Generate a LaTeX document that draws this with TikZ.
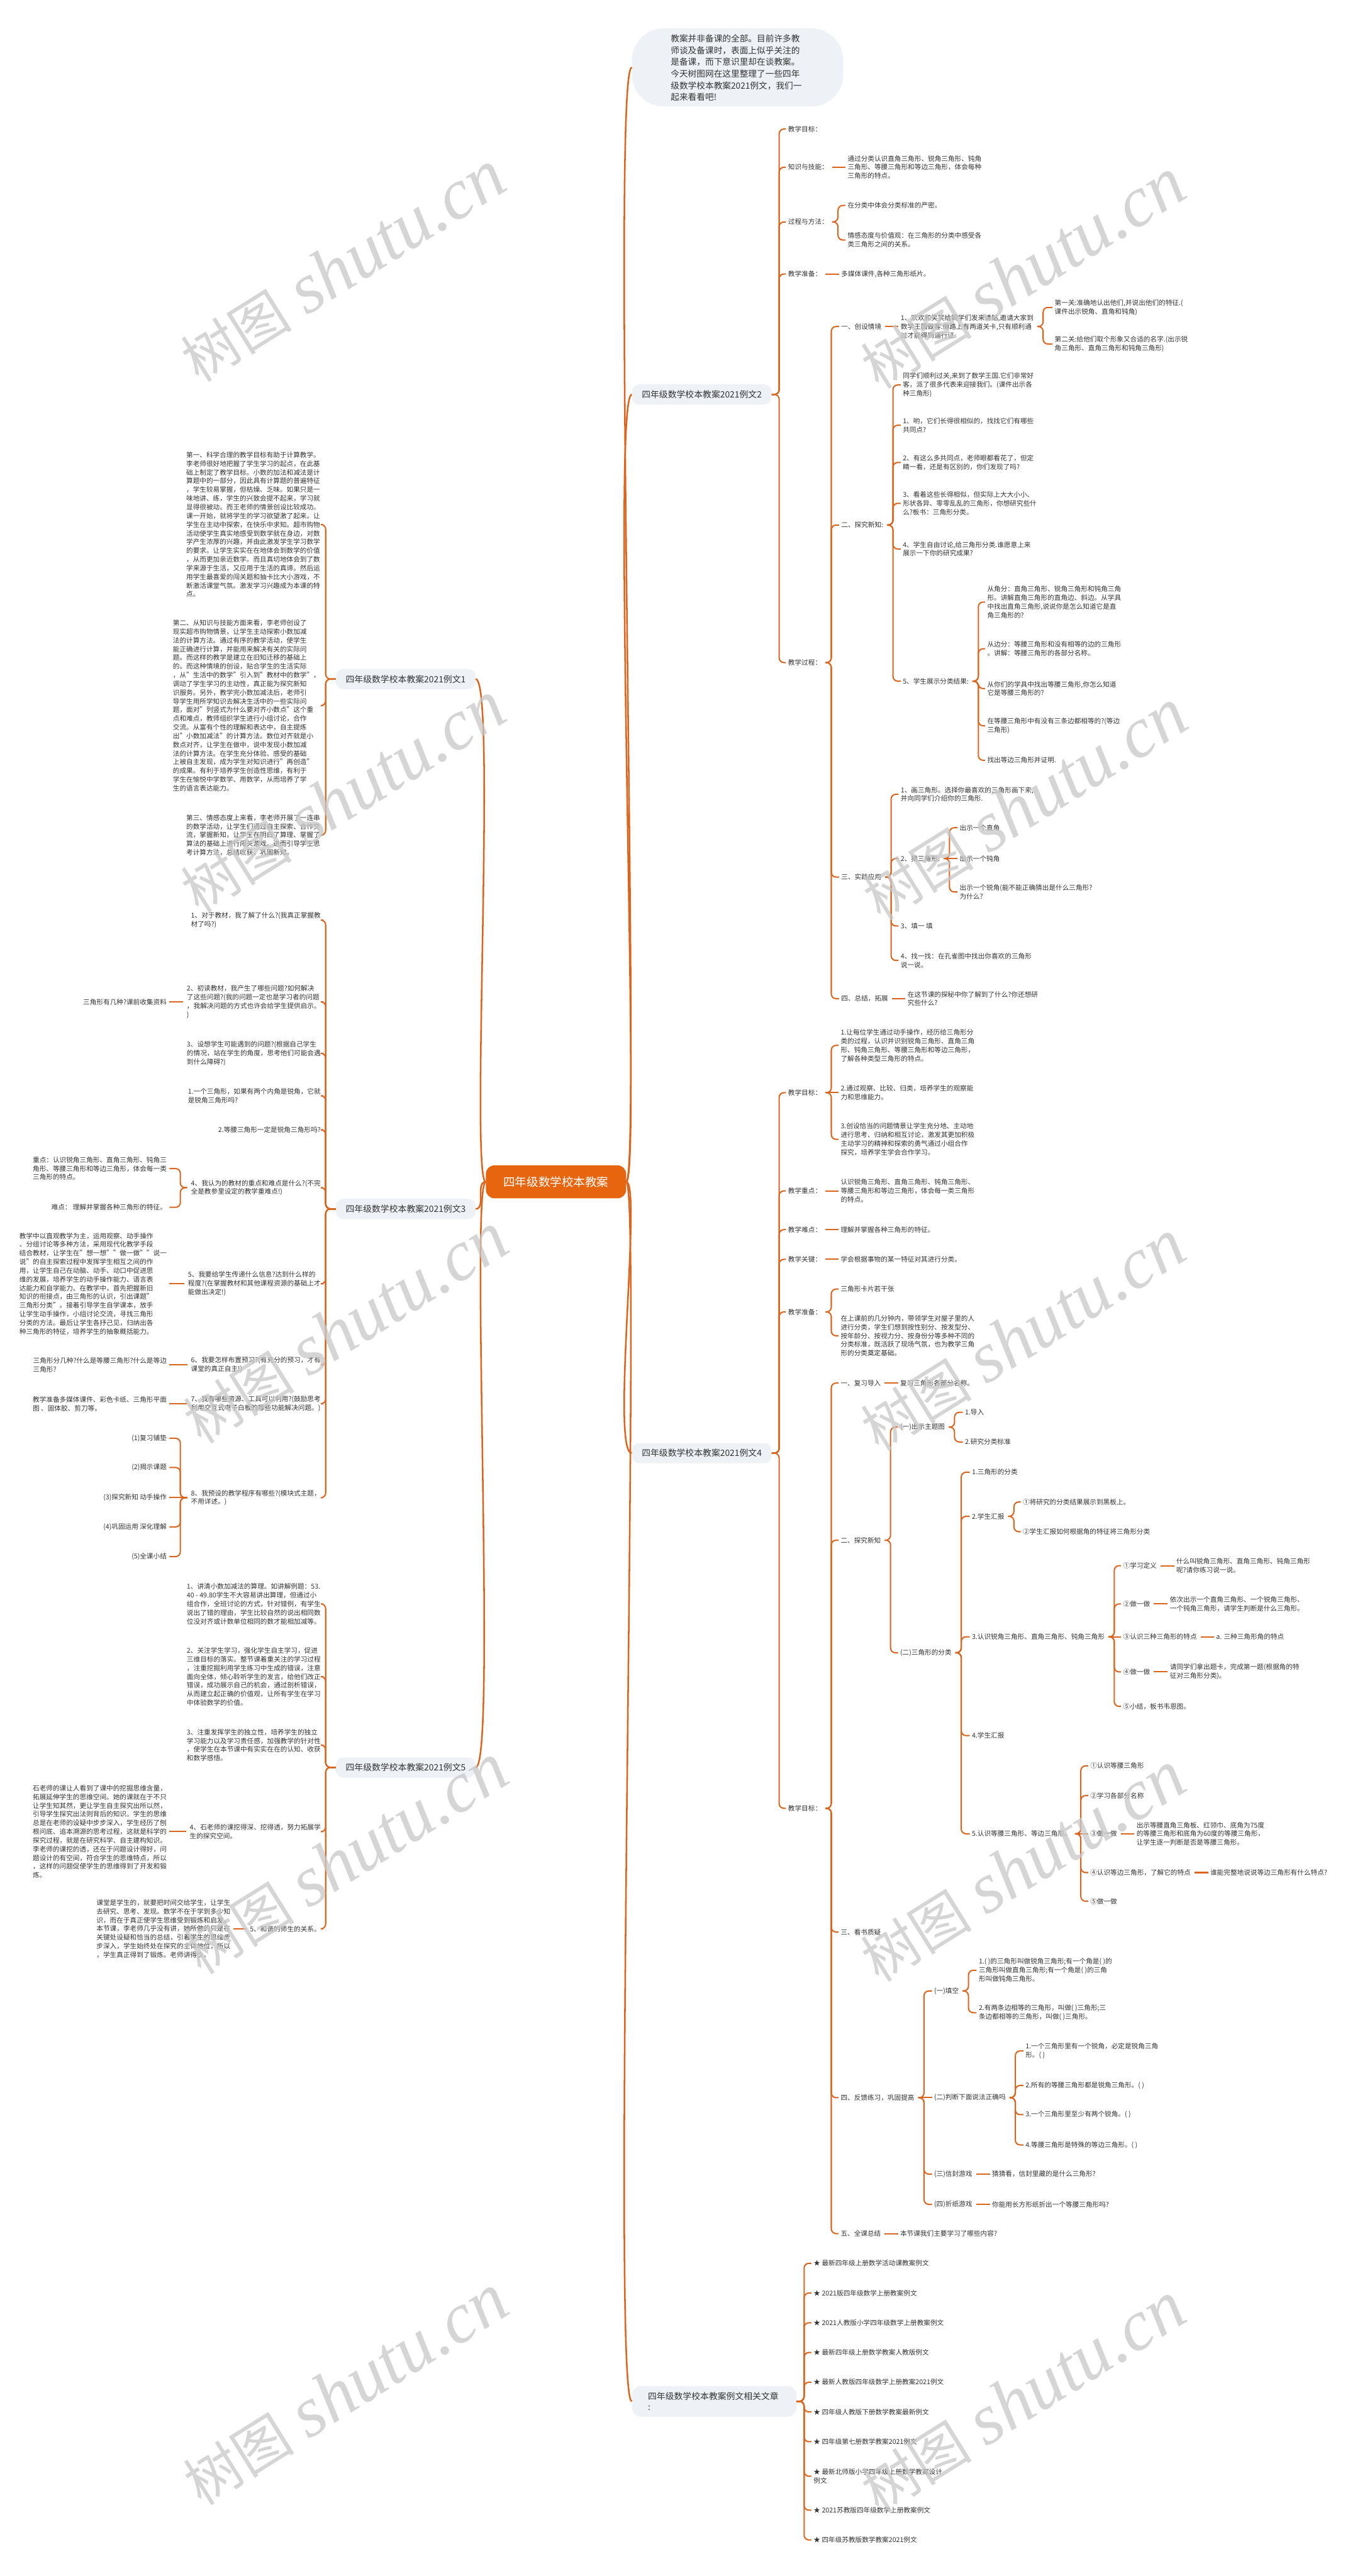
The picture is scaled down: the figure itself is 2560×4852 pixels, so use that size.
\documentclass[tikz,border=0pt]{standalone}
\usepackage{fontspec}
\setmainfont{Noto Sans CJK SC}
\newfontfamily\wmserif{Liberation Serif}
\usetikzlibrary{calc}
\definecolor{edgec}{HTML}{D9651F}
\definecolor{nodebg}{HTML}{EEF1F5}
\definecolor{txt}{HTML}{333333}
\definecolor{ctr}{HTML}{E8650F}
\definecolor{wmc}{HTML}{C8C8C8}
\tikzset{
  t/.style={font=\fontsize{12.6}{16.4}\selectfont, inner sep=0pt, align=left, text=txt},
  tw/.style={t, anchor=west},
  te/.style={t, anchor=east},
  br/.style={fill=nodebg, rounded corners=14pt, minimum width=263pt, minimum height=38pt,
     font=\fontsize{16.4}{20}\selectfont, text=txt, inner sep=0pt},
  ed/.style={draw=edgec, line width=2.4pt, rounded corners=9pt},
  me/.style={draw=edgec, line width=3pt},
  wm/.style={rotate=32, text=wmc, opacity=0.75, inner sep=0pt},
}
\newcommand\edR[2]{\draw[ed] ([xshift=7pt]#1.east) -- ++(11pt,0pt) |- ([xshift=-4pt]#2.west);}
\newcommand\edS[2]{\draw[ed] ([xshift=7pt]#1.east) -- ($(#1.east -| #2.west)+(-4pt,0pt)$);}
\newcommand\edRB[2]{\draw[ed] (#1.east) -- ++(14pt,0pt) |- ([xshift=-4pt]#2.west);}
\newcommand\edL[2]{\draw[ed] ([xshift=-7pt]#1.west) -- ++(-13pt,0pt) |- ([xshift=5pt]#2.east);}
\newcommand\edSL[2]{\draw[ed] ([xshift=-7pt]#1.west) -- ($(#1.west -| #2.east)+(5pt,0pt)$);}
\newcommand\edLB[2]{\draw[ed] (#1.west) -- ++(-19pt,0pt) |- ([xshift=5pt]#2.east);}
\newcommand\wmark[1]{\node[wm] at (#1) {\fontsize{105}{110}\selectfont 树图\hspace{28pt}{\wmserif\itshape\fontsize{135}{140}\selectfont shutu.cn}};}
\begin{document}
\begin{tikzpicture}[x=1pt,y=-1pt]
\useasboundingbox[fill=white] (0,0) rectangle (2560,4852);

% centre
\node[fill=ctr, rounded corners=16pt, minimum width=264pt, minimum height=62pt, inner sep=0pt,
  text=white, font=\fontsize{22}{26}\selectfont] (C) at (1047,2226) {四年级数学校本教案};

% intro
\node[fill=nodebg, rounded corners=60pt, minimum width=398pt, minimum height=147pt, inner sep=0pt] (intro) at (1389,127) {};
\node[anchor=west, inner sep=0pt, align=left, text=txt, font=\fontsize{16.2}{22}\selectfont] (introt) at (1263,128)
 {教案并非备课的全部。目前许多教\\师谈及备课时，表面上似乎关注的\\是备课，而下意识里却在谈教案。\\今天树图网在这里整理了一些四年\\级数学校本教案2021例文，我们一\\起来看看吧!};

% branch boxes
\node[br] (b2) at (1321.5,743) {四年级数学校本教案2021例文2};
\node[br] (b4) at (1321.5,2737) {四年级数学校本教案2021例文4};
\node[fill=nodebg, rounded corners=18pt, minimum width=310pt, minimum height=58pt, inner sep=0pt] (b6) at (1345,4523) {};
\node[anchor=west, inner sep=0pt, align=left, text=txt, font=\fontsize{16.4}{21}\selectfont] at (1220,4523) {四年级数学校本教案例文相关文章\\:};
\node[br] (b1) at (764,1279) {四年级数学校本教案2021例文1};
\node[br] (b3) at (764,2277) {四年级数学校本教案2021例文3};
\node[br] (b5) at (764,3329) {四年级数学校本教案2021例文5};

% main curves
\draw[me] (C.east) .. controls +(30,0) and +(-40,0) .. (intro.west);
\draw[me] (C.east) .. controls +(30,0) and +(-40,0) .. (b2.west);
\draw[me] (C.east) .. controls +(30,0) and +(-40,0) .. (b4.west);
\draw[me] (C.east) .. controls +(30,0) and +(-40,0) .. (b6.west);
\draw[me] (b1.east) .. controls +(40,0) and +(-30,0) .. (C.west);
\draw[me] (b3.east) .. controls +(20,0) and +(-20,0) .. (C.west);
\draw[me] (b5.east) .. controls +(40,0) and +(-30,0) .. (C.west);

% ================= example 2 =================
\node[tw] (r2a) at (1484,243) {教学目标：};
\node[tw] (r2b) at (1484,315) {知识与技能：};
\node[tw] (r2b1) at (1596,315) {通过分类认识直角三角形、锐角三角形、钝角\\三角形、等腰三角形和等边三角形，体会每种\\三角形的特点。};
\node[tw] (r2c) at (1484,418) {过程与方法：};
\node[tw] (r2c1) at (1596,387) {在分类中体会分类标准的严密。};
\node[tw] (r2c2) at (1596,452) {情感态度与价值观：在三角形的分类中感受各\\类三角形之间的关系。};
\node[tw] (r2d) at (1484,516) {教学准备：};
\node[tw] (r2d1) at (1584,516) {多媒体课件,各种三角形纸片。};
\node[tw] (r2e) at (1484,1248) {教学过程：};
\foreach \c in {r2a,r2b,r2c,r2d,r2e} {\edRB{b2}{\c}}
\edS{r2b}{r2b1}
\edR{r2c}{r2c1}\edR{r2c}{r2c2}
\edS{r2d}{r2d1}

\node[tw] (e1) at (1584,615) {一、创设情境};
\node[tw] (e1a) at (1696,615) {1、欢欢和笑笑给同学们发来请贴,邀请大家到\\数学王国做客.但路上有两道关卡,只有顺利通\\过才能得到通行证.};
\node[tw] (e1a1) at (1986,579) {第一关:准确地认出他们,并说出他们的特征.(\\课件出示锐角、直角和钝角)};
\node[tw] (e1a2) at (1986,648) {第二关:给他们取个形象又合适的名字.(出示锐\\角三角形、直角三角形和钝角三角形)};
\node[tw] (e2) at (1584,989) {二、探究新知:};
\node[tw] (e2a) at (1700,725) {同学们顺利过关,来到了数学王国.它们非常好\\客，派了很多代表来迎接我们。(课件出示各\\种三角形)};
\node[tw] (e2b) at (1700,801) {1、哟，它们长得很相似的，找找它们有哪些\\共同点?};
\node[tw] (e2c) at (1700,871) {2、有这么多共同点，老师眼都看花了，但定\\睛一看，还是有区别的，你们发现了吗?};
\node[tw] (e2d) at (1700,948) {3、看着这些长得相似，但实际上大大小小、\\形状各异、零零乱乱的三角形，你想研究些什\\么?板书：三角形分类。};
\node[tw] (e2e) at (1700,1034) {4、学生自由讨论,给三角形分类.谁愿意上来\\展示一下你的研究成果?};
\node[tw] (e2f) at (1700,1283) {5、学生展示分类结果:};
\node[tw] (f1) at (1859,1134) {从角分：直角三角形、锐角三角形和钝角三角\\形。讲解直角三角形的直角边、斜边。从学具\\中找出直角三角形,说说你是怎么知道它是直\\角三角形的?};
\node[tw] (f2) at (1859,1222) {从边分：等腰三角形和没有相等的边的三角形\\。讲解：等腰三角形的各部分名称。};
\node[tw] (f3) at (1859,1297) {从你们的学具中找出等腰三角形,你怎么知道\\它是等腰三角形的?};
\node[tw] (f4) at (1859,1367) {在等腰三角形中有没有三条边都相等的?(等边\\三角形)};
\node[tw] (f5) at (1859,1432) {找出等边三角形并证明.};
\node[tw] (e3) at (1584,1652) {三、实践应用};
\node[tw] (g1) at (1696,1496) {1、画三角形。选择你最喜欢的三角形画下来,\\并向同学们介绍你的三角形.};
\node[tw] (g2) at (1696,1617) {2、猜三角形:};
\node[tw] (g2a) at (1807,1559) {出示一个直角};
\node[tw] (g2b) at (1807,1617) {出示一个钝角};
\node[tw] (g2c) at (1807,1680) {出示一个锐角(能不能正确猜出是什么三角形?\\为什么?};
\node[tw] (g3) at (1696,1744) {3、填一 填};
\node[tw] (g4) at (1696,1809) {4、找一找：在孔雀图中找出你喜欢的三角形\\说一说。};
\node[tw] (e4) at (1584,1881) {四、总结，拓展};
\node[tw] (h1) at (1709,1881) {在这节课的探秘中你了解到了什么?你还想研\\究些什么?};
\foreach \c in {e1,e2,e3,e4} {\edR{r2e}{\c}}
\edS{e1}{e1a}\edR{e1a}{e1a1}\edR{e1a}{e1a2}
\foreach \c in {e2a,e2b,e2c,e2d,e2e,e2f} {\edR{e2}{\c}}
\foreach \c in {f1,f2,f3,f4,f5} {\edR{e2f}{\c}}
\foreach \c in {g1,g2,g3,g4} {\edR{e3}{\c}}
\edR{g2}{g2a}\edS{g2}{g2b}\edR{g2}{g2c}
\edS{e4}{h1}

% ================= example 4 =================
\node[tw] (s1) at (1484,2058) {教学目标：};
\node[tw] (s1a) at (1583,1969) {1.让每位学生通过动手操作，经历给三角形分\\类的过程，认识并识别锐角三角形、直角三角\\形、钝角三角形、等腰三角形和等边三角形，\\了解各种类型三角形的特点。};
\node[tw] (s1b) at (1583,2058) {2.通过观察、比较、归类，培养学生的观察能\\力和思维能力。};
\node[tw] (s1c) at (1583,2146) {3.创设恰当的问题情景让学生充分地、主动地\\进行思考、归纳和相互讨论，激发其更加积极\\主动学习的精神和探索的勇气通过小组合作\\探究，培养学生学会合作学习。};
\node[tw] (s2) at (1484,2243) {教学重点：};
\node[tw] (s2a) at (1583,2243) {认识锐角三角形、直角三角形、钝角三角形、\\等腰三角形和等边三角形，体会每一类三角形\\的特点。};
\node[tw] (s3) at (1484,2316) {教学难点：};
\node[tw] (s3a) at (1583,2316) {理解并掌握各种三角形的特征。};
\node[tw] (s4) at (1484,2372) {教学关键：};
\node[tw] (s4a) at (1583,2372) {学会根据事物的某一特征对其进行分类。};
\node[tw] (s5) at (1484,2471) {教学准备：};
\node[tw] (s5a) at (1583,2428) {三角形卡片若干张};
\node[tw] (s5b) at (1583,2516) {在上课前的几分钟内，带领学生对屋子里的人\\进行分类，学生们想到按性别分、按发型分、\\按年龄分、按视力分、按身份分等多种不同的\\分类标准，既活跃了现场气氛，也为教学三角\\形的分类奠定基础。};
\node[tw] (s6) at (1484,3406) {教学目标：};
\foreach \c in {s1,s2,s3,s4,s5,s6} {\edRB{b4}{\c}}
\edR{s1}{s1a}\edS{s1}{s1b}\edR{s1}{s1c}
\edS{s2}{s2a}\edS{s3}{s3a}\edS{s4}{s4a}
\edR{s5}{s5a}\edR{s5}{s5b}

\node[tw] (u1) at (1583,2605) {一、复习导入};
\node[tw] (u1a) at (1695,2605) {复习三角形各部分名称。};
\node[tw] (u2) at (1583,2901) {二、探究新知};
\node[tw] (u2a) at (1695,2688) {(一)出示主题图};
\node[tw] (u2a1) at (1817,2660) {1.导入};
\node[tw] (u2a2) at (1817,2716) {2.研究分类标准};
\node[tw] (u2b) at (1695,3113) {(二)三角形的分类};
\node[tw] (v1) at (1830,2773) {1.三角形的分类};
\node[tw] (v2) at (1830,2856) {2.学生汇报};
\node[tw] (v2a) at (1926,2829) {①将研究的分类结果展示到黑板上。};
\node[tw] (v2b) at (1926,2885) {②学生汇报如何根据角的特征将三角形分类};
\node[tw] (v3) at (1830,3083) {3.认识锐角三角形、直角三角形、钝角三角形};
\node[tw] (w1) at (2115,2949) {①学习定义};
\node[tw] (w1a) at (2215,2949) {什么叫锐角三角形、直角三角形、钝角三角形\\呢?请你练习说一说。};
\node[tw] (w2) at (2115,3021) {②做一做};
\node[tw] (w2a) at (2203,3021) {依次出示一个直角三角形、一个锐角三角形、\\一个钝角三角形，请学生判断是什么三角形。};
\node[tw] (w3) at (2115,3083) {③认识三种三角形的特点};
\node[tw] (w3a) at (2290,3083) {a. 三种三角形角的特点};
\node[tw] (w4) at (2115,3149) {④做一做};
\node[tw] (w4a) at (2203,3149) {请同学们拿出题卡，完成第一题(根据角的特\\征对三角形分类)。};
\node[tw] (w5) at (2115,3214) {⑤小结，板书韦恩图。};
\node[tw] (v4) at (1830,3269) {4.学生汇报};
\node[tw] (v5) at (1830,3454) {5.认识等腰三角形、等边三角形。};
\node[tw] (x1) at (2053,3326) {①认识等腰三角形};
\node[tw] (x2) at (2053,3382) {②学习各部分名称};
\node[tw] (x3) at (2053,3454) {③做一做};
\node[tw] (x3a) at (2140,3454) {出示等腰直角三角板、红领巾、底角为75度\\的等腰三角形和底角为60度的等腰三角形，\\让学生逐一判断是否是等腰三角形。};
\node[tw] (x4) at (2053,3527) {④认识等边三角形，了解它的特点};
\node[tw] (x4a) at (2279,3527) {谁能完整地说说等边三角形有什么特点?};
\node[tw] (x5) at (2053,3581) {⑤做一做};
\node[tw] (u3) at (1583,3639) {三、看书质疑};
\node[tw] (u4) at (1583,3951) {四、反馈练习，巩固提高};
\node[tw] (y1) at (1759,3750) {(一)填空};
\node[tw] (y1a) at (1843,3711) {1.( )的三角形叫做锐角三角形;有一个角是( )的\\三角形叫做直角三角形;有一个角是( )的三角\\形叫做钝角三角形。};
\node[tw] (y1b) at (1843,3791) {2.有两条边相等的三角形，叫做( )三角形;三\\条边都相等的三角形，叫做( )三角形。};
\node[tw] (y2) at (1759,3951) {(二)判断下面说法正确吗};
\node[tw] (y2a) at (1931,3863) {1.一个三角形里有一个锐角，必定是锐角三角\\形。( )};
\node[tw] (y2b) at (1931,3928) {2.所有的等腰三角形都是锐角三角形。( )};
\node[tw] (y2c) at (1931,3983) {3.一个三角形里至少有两个锐角。( )};
\node[tw] (y2d) at (1931,4040) {4.等腰三角形是特殊的等边三角形。( )};
\node[tw] (y3) at (1759,4095) {(三)信封游戏};
\node[tw] (y3a) at (1868,4095) {猜猜看，信封里藏的是什么三角形?};
\node[tw] (y4) at (1759,4152) {(四)折纸游戏};
\node[tw] (y4a) at (1868,4152) {你能用长方形纸折出一个等腰三角形吗?};
\node[tw] (u5) at (1583,4207) {五、全课总结};
\node[tw] (u5a) at (1695,4207) {本节课我们主要学习了哪些内容?};
\foreach \c in {u1,u2,u3,u4,u5} {\edR{s6}{\c}}
\edS{u1}{u1a}
\edR{u2}{u2a}\edR{u2}{u2b}
\edR{u2a}{u2a1}\edR{u2a}{u2a2}
\foreach \c in {v1,v2,v3,v4,v5} {\edR{u2b}{\c}}
\edR{v2}{v2a}\edR{v2}{v2b}
\edR{v3}{w1}\edR{v3}{w2}\edS{v3}{w3}\edR{v3}{w4}\edR{v3}{w5}
\edS{w1}{w1a}\edS{w2}{w2a}\edS{w3}{w3a}\edS{w4}{w4a}
\edR{v5}{x1}\edR{v5}{x2}\edS{v5}{x3}\edR{v5}{x4}\edR{v5}{x5}
\edS{x3}{x3a}\edS{x4}{x4a}
\edR{u4}{y1}\edS{u4}{y2}\edR{u4}{y3}\edR{u4}{y4}
\edR{y1}{y1a}\edR{y1}{y1b}
\foreach \c in {y2a,y2b,y2c,y2d} {\edR{y2}{\c}}
\edS{y3}{y3a}\edS{y4}{y4a}
\edS{u5}{u5a}

% ================= related =================
\node[tw] (k1) at (1532,4263) {★ 最新四年级上册数学活动课教案例文};
\node[tw] (k2) at (1532,4319) {★ 2021版四年级数学上册教案例文};
\node[tw] (k3) at (1532,4375) {★ 2021人教版小学四年级数学上册教案例文};
\node[tw] (k4) at (1532,4431) {★ 最新四年级上册数学教案人教版例文};
\node[tw] (k5) at (1532,4487) {★ 最新人教版四年级数学上册教案2021例文};
\node[tw] (k6) at (1532,4543) {★ 四年级人教版下册数学教案最新例文};
\node[tw] (k7) at (1532,4599) {★ 四年级第七册数学教案2021例文};
\node[tw] (k8) at (1532,4664) {★ 最新北师版小学四年级上册数学教案设计\\例文};
\node[tw] (k9) at (1532,4728) {★ 2021苏教版四年级数学上册教案例文};
\node[tw] (k10) at (1532,4784) {★ 四年级苏教版数学教案2021例文};
\foreach \c in {k1,k2,k3,k4,k5,k6,k7,k8,k9,k10} {\edRB{b6}{\c}}

% ================= example 1 =================
\node[te] (p1a) at (603,988) {第一、科学合理的教学目标有助于计算教学。\\李老师很好地把握了学生学习的起点，在此基\\础上制定了教学目标。小数的加法和减法是计\\算题中的一部分，因此具有计算题的普遍特征\\，学生较易掌握，但枯燥、乏味。如果只是一\\味地讲、练，学生的兴致会提不起来，学习就\\显得很被动。而王老师的情景创设比较成功。\\课一开始，就将学生的学习欲望激了起来。让\\学生在主动中探索，在快乐中求知。超市购物\\活动使学生真实地感受到数学就在身边，对数\\学产生浓厚的兴趣，并由此激发学生学习数学\\的要求。让学生实实在在地体会到数学的价值\\，从而更加亲近数学。而且真切地体会到了数\\学来源于生活，又应用于生活的真谛。然后运\\用学生最喜爱的闯关题和抽卡比大小游戏，不\\断激活课堂气氛。激发学习兴趣成为本课的特\\点。};
\node[te] (p1b) at (603,1329) {第二、从知识与技能方面来看，李老师创设了\\现实超市购物情景，让学生主动探索小数加减\\法的计算方法。通过有序的教学活动，使学生\\能正确进行计算，并能用来解决有关的实际问\\题。而这样的教学是建立在旧知迁移的基础上\\的。而这种情境的创设，贴合学生的生活实际\\，从"生活中的数学"引入到"教材中的数学"，\\调动了学生学习的主动性，真正能为探究新知\\识服务。另外，教学完小数加减法后，老师引\\导学生用所学知识去解决生活中的一些实际问\\题，面对"列竖式为什么要对齐小数点"这个重\\点和难点，教师组织学生进行小组讨论，合作\\交流。从富有个性的理解和表达中，自主提炼\\出"小数加减法"的计算方法。数位对齐就是小\\数点对齐，让学生在做中，说中发现小数加减\\法的计算方法。在学生充分体验、感受的基础\\上被自主发现，成为学生对知识进行"再创造"\\的成果。有利于培养学生创造性思维，有利于\\学生在愉悦中学数学、用数学，从而培养了学\\生的语言表达能力。};
\node[te] (p1c) at (603,1573) {第三、情感态度上来看，李老师开展了一连串\\的数学活动，让学生们通过自主探索、合作交\\流，掌握新知，让学生在明白了算理、掌握了\\算法的基础上进行闯关游戏。进而引导学生思\\考计算方法，总结收获，巩固新知。};
\foreach \c in {p1a,p1b,p1c} {\edLB{b1}{\c}}

% ================= example 3 =================
\node[te] (c1) at (604,1733) {1、对于教材，我了解了什么?(我真正掌握教\\材了吗?)};
\node[te] (c2) at (604,1887) {2、初读教材，我产生了哪些问题?如何解决\\了这些问题?(我的问题一定也是学习者的问题\\，我解决问题的方式也许会给学生提供启示。\\)};
\node[te] (c2g) at (314,1887) {三角形有几种?课前收集资料};
\node[te] (c3) at (604,1984) {3、设想学生可能遇到的问题?(根据自己学生\\的情况，站在学生的角度，思考他们可能会遇\\到什么障碍?)};
\node[te] (c4) at (604,2064) {1.一个三角形，如果有两个内角是锐角，它就\\是锐角三角形吗?};
\node[te] (c5) at (604,2128) {2.等腰三角形一定是锐角三角形吗?};
\node[te] (c6) at (604,2237) {4、我认为的教材的重点和难点是什么?(不完\\全是教参里设定的教学重难点!)};
\node[te] (c6g1) at (314,2201) {重点：认识锐角三角形、直角三角形、钝角三\\角形、等腰三角形和等边三角形，体会每一类\\三角形的特点。};
\node[te] (c6g2) at (314,2274) {难点： 理解并掌握各种三角形的特征。};
\node[te] (c7) at (604,2418) {5、我要给学生传递什么信息?达到什么样的\\程度?(在掌握教材和其他课程资源的基础上才\\能做出决定!)};
\node[te] (c7g) at (314,2418) {教学中以直观教学为主，运用观察、动手操作\\、分组讨论等多种方法，采用现代化教学手段\\结合教材，让学生在"想一想""做一做""说一\\说"的自主探索过程中发挥学生相互之间的作\\用，让学生自己在动脑、动手、动口中促进思\\维的发展，培养学生的动手操作能力、语言表\\达能力和自学能力。在教学中，首先把握新旧\\知识的衔接点，由三角形的认识，引出课题"\\三角形分类"。接着引导学生自学课本，放手\\让学生动手操作，小组讨论交流，寻找三角形\\分类的方法。最后让学生各抒己见，归纳出各\\种三角形的特征，培养学生的抽象概括能力。};
\node[te] (c8) at (604,2571) {6、我要怎样布置预习?(有充分的预习，才有\\课堂的真正自主!)};
\node[te] (c8g) at (314,2571) {三角形分几种?什么是等腰三角形?什么是等边\\三角形?};
\node[te] (c9) at (604,2644) {7、我有哪些资源、工具可以利用?(鼓励思考\\利用交互式电子白板的哪些功能解决问题。)};
\node[te] (c9g) at (314,2644) {教学准备多媒体课件、彩色卡纸、三角形平面\\图 、固体胶、剪刀等。};
\node[te] (c10) at (604,2821) {8、我预设的教学程序有哪些?(模块式主题，\\不用详述。)};
\node[te] (c10a) at (314,2709) {(1)复习铺垫};
\node[te] (c10b) at (314,2764) {(2)揭示课题};
\node[te] (c10c) at (314,2821) {(3)探究新知 动手操作};
\node[te] (c10d) at (314,2876) {(4)巩固运用 深化理解};
\node[te] (c10e) at (314,2932) {(5)全课小结};
\foreach \c in {c1,c2,c3,c4,c5,c6,c7,c8,c9,c10} {\edLB{b3}{\c}}
\edSL{c2}{c2g}\edL{c6}{c6g1}\edL{c6}{c6g2}\edSL{c7}{c7g}\edSL{c8}{c8g}\edSL{c9}{c9g}
\edL{c10}{c10a}\edL{c10}{c10b}\edSL{c10}{c10c}\edL{c10}{c10d}\edL{c10}{c10e}

% ================= example 5 =================
\node[te] (d1) at (604,3021) {1、讲清小数加减法的算理。如讲解例题：53.\\40 - 49.80学生不大容易讲出算理，但通过小\\组合作，全班讨论的方式，针对错例，有学生\\说出了错的理由，学生比较自然的说出相同数\\位没对齐或计数单位相同的数才能相加减等。};
\node[te] (d2) at (604,3158) {2、关注学生学习，强化学生自主学习，促进\\三维目标的落实。整节课着重关注的学习过程\\，注重挖掘利用学生练习中生成的错误，注意\\面向全体，倾心聆听学生的发言，给他们改正\\错误，成功展示自己的机会，通过剖析错误，\\从而建立起正确的价值观，让所有学生在学习\\中体验数学的价值。};
\node[te] (d3) at (604,3287) {3、注重发挥学生的独立性，培养学生的独立\\学习能力以及学习责任感，加强教学的针对性\\，使学生在本节课中有实实在在的认知、收获\\和数学感悟。};
\node[te] (d4) at (604,3450) {4、石老师的课挖得深、挖得透，努力拓展学\\生的探究空间。};
\node[te] (d4g) at (314,3450) {石老师的课让人看到了课中的挖掘思维含量，\\拓展延伸学生的思维空间。她的课就在于不只\\让学生知其然，更让学生自主探究出所以然，\\引导学生探究出法则背后的知识。学生的思维\\总是在老师的设疑中步步深入，学生经历了刨\\根问底、追本溯源的思考过程，这就是科学的\\探究过程，就是在研究科学、自主建构知识。\\李老师的课挖的透，还在于问题设计得好，问\\题设计的有空间，符合学生的思维特点，所以\\，这样的问题促使学生的思维得到了开发和锻\\炼。};
\node[te] (d5) at (604,3633) {5、和谐的师生的关系。};
\node[te] (d5g) at (434,3633) {课堂是学生的，就要把时间交给学生，让学生\\去研究、思考、发现。数学不在于学到多少知\\识，而在于真正使学生思维受到锻炼和启发。\\本节课，李老师几乎没有讲，她所做的只是在\\关键处设疑和恰当的总结，引着学生的思维步\\步深入，学生始终处在探究的主体地位，所以\\，学生真正得到了锻炼。老师讲得少。};
\foreach \c in {d1,d2,d3,d4,d5} {\edLB{b5}{\c}}
\edSL{d4}{d4g}\edSL{d5}{d5g}

% watermarks
\foreach \p in {{646,502},{646,1502},{650,2502},{650,3502},{650,4502},
                {1926,516},{1930,1516},{1926,2516},{1926,3516},{1926,4516}} {\wmark{\p}}
\end{tikzpicture}
\end{document}
